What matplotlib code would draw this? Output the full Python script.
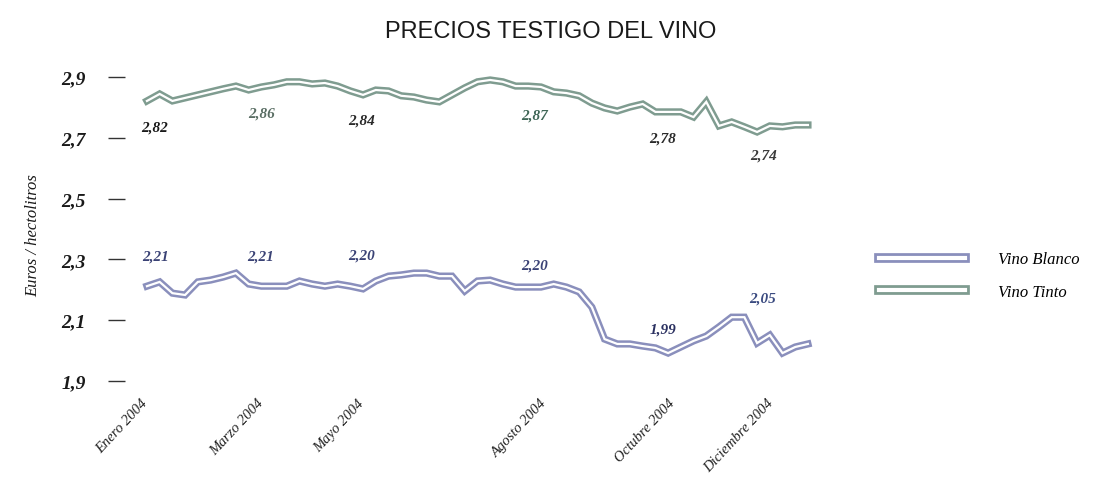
import matplotlib.pyplot as plt
import matplotlib.patheffects as pe
from matplotlib.lines import Line2D

# ---- datos (semanas de 2004) ----
semanas = list(range(53))
vino_tinto = [2.821, 2.844, 2.821, 2.831, 2.841, 2.851, 2.861, 2.870, 2.857, 2.867,
              2.874, 2.884, 2.884, 2.877, 2.880, 2.870, 2.854, 2.841, 2.857, 2.854,
              2.838, 2.834, 2.824, 2.818, 2.841, 2.864, 2.884, 2.890, 2.884, 2.870,
              2.870, 2.867, 2.851, 2.847, 2.838, 2.814, 2.798, 2.788, 2.801, 2.811,
              2.785, 2.785, 2.785, 2.768, 2.818, 2.739, 2.752, 2.736, 2.719, 2.739,
              2.736, 2.742, 2.742]
vino_blanco = [2.212, 2.226, 2.189, 2.183, 2.226, 2.232, 2.242, 2.255, 2.219, 2.212,
               2.212, 2.212, 2.229, 2.219, 2.212, 2.219, 2.212, 2.203, 2.229, 2.245,
               2.249, 2.255, 2.255, 2.245, 2.245, 2.196, 2.229, 2.232, 2.219, 2.209,
               2.209, 2.209, 2.219, 2.209, 2.193, 2.143, 2.038, 2.022, 2.022, 2.015,
               2.009, 1.992, 2.012, 2.032, 2.048, 2.078, 2.110, 2.110, 2.025, 2.051,
               1.992, 2.012, 2.022]

meses = ['Enero 2004', 'Marzo 2004', 'Mayo 2004', 'Agosto 2004', 'Octubre 2004', 'Diciembre 2004']
meses_pos = [-0.5, 8.6, 16.5, 30.9, 41.0, 48.7]

y_ticks = [1.9, 2.1, 2.3, 2.5, 2.7, 2.9]
y_labels = ['1,9', '2,1', '2,3', '2,5', '2,7', '2,9']

tinto_notas = ['2,82', '2,86', '2,84', '2,87', '2,78', '2,74']
blanco_notas = ['2,21', '2,21', '2,20', '2,20', '1,99', '2,05']

# posiciones de las etiquetas (layout)
tinto_xy = [(0.6, 2.736), (9.0, 2.782), (16.9, 2.759), (30.5, 2.775), (40.6, 2.698), (48.5, 2.642)]
tinto_col = ['#1a1a1a', '#5a6e64', '#2a2a2a', '#3f6656', '#2a2a2a', '#3a3a3a']
blanco_xy = [(0.7, 2.312), (8.9, 2.312), (16.9, 2.315), (30.5, 2.283), (40.6, 2.072), (48.4, 2.173)]
blanco_col = ['#3a4275', '#3a4275', '#3a4275', '#3a4275', '#2a3060', '#3a4a80']

c_tinto = '#7f9c90'
c_blanco = '#8a8fbc'

fig = plt.figure(figsize=(11.01, 5.02), dpi=100)
ax = fig.add_axes([0.1135, 0.2032, 0.6403, 0.6773])

def doble(color):
    return [pe.Stroke(linewidth=5.2, foreground=color), pe.Normal()]

ax.plot(semanas, vino_blanco, color='white', lw=1.6, path_effects=doble(c_blanco),
        solid_joinstyle='miter', label='Vino Blanco')
ax.plot(semanas, vino_tinto, color='white', lw=1.6, path_effects=doble(c_tinto),
        solid_joinstyle='miter', label='Vino Tinto')

serif = 'Liberation Serif'
for txt, (x, y), c in zip(tinto_notas, tinto_xy, tinto_col):
    ax.text(x, y, txt, ha='center', va='center', fontsize=11, family=serif,
            style='italic', weight='bold', color=c)
for txt, (x, y), c in zip(blanco_notas, blanco_xy, blanco_col):
    ax.text(x, y, txt, ha='center', va='center', fontsize=11, family=serif,
            style='italic', weight='bold', color=c)

ax.set_xlim(-1.73, 53.73)
ax.set_ylim(1.841, 2.959)
for s in ax.spines.values():
    s.set_visible(False)

ax.set_yticks(y_ticks)
ax.set_yticklabels(y_labels, family=serif, style='italic', weight='bold', fontsize=14, color='#1a1a1a')
ax.tick_params(axis='y', length=12, width=1, color='#333333', pad=16)

ax.set_xticks(meses_pos)
ax.set_xticklabels(meses, rotation=47, ha='right', va='top', rotation_mode='anchor',
                   family=serif, style='italic', fontsize=10.5, color='#222222')
ax.tick_params(axis='x', length=0, pad=-2)

fig.text(0.5, 0.936, 'PRECIOS TESTIGO DEL VINO', ha='center', va='center',
         fontsize=17, family='Liberation Sans', color='#1a1a1a')
fig.text(0.03, 0.53, 'Euros / hectolitros', rotation=90, ha='center', va='center',
         fontsize=12, family=serif, style='italic', color='#1a1a1a')

h_blanco = Line2D([], [], color='white', lw=3, path_effects=[pe.Stroke(linewidth=7, foreground=c_blanco), pe.Normal()])
h_tinto = Line2D([], [], color='white', lw=3, path_effects=[pe.Stroke(linewidth=7, foreground=c_tinto), pe.Normal()])
leg = fig.legend([h_blanco, h_tinto], ['Vino Blanco', 'Vino Tinto'],
                 loc='upper left', bbox_to_anchor=(0.785, 0.527), frameon=False,
                 handlelength=5.15, handletextpad=2.0, labelspacing=1.0,
                 prop={'family': serif, 'style': 'italic', 'size': 12})

fig.savefig('out.png', dpi=100)
